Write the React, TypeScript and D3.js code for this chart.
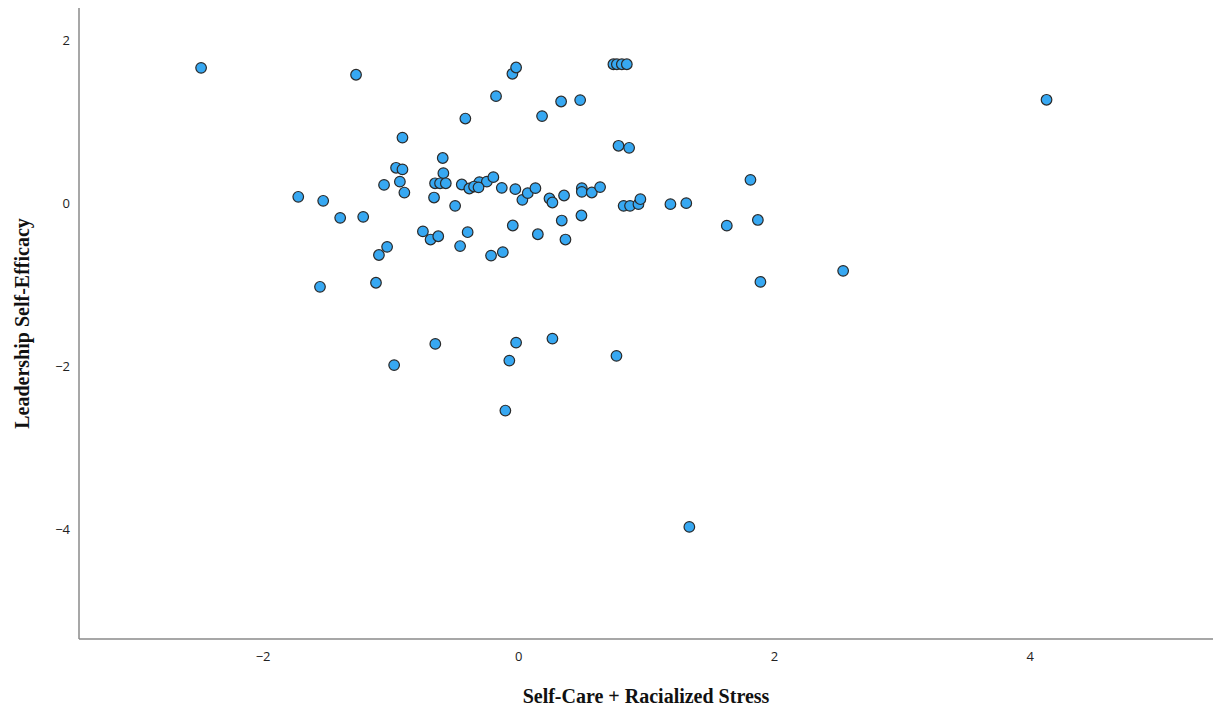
import React from 'react';
import * as d3 from 'd3';

// values
const selfCareStress = [
  -2.485, -1.725, -1.53, -1.397, -1.217, -1.273, -1.555, -1.117, -1.094, -1.03,
  -1.054, -0.975, -0.91, -0.96, -0.91, -0.93, -0.895, -0.75, -0.69, -0.63,
  -0.663, -0.595, -0.59, -0.655, -0.616, -0.571, -0.498, -0.446, -0.387, -0.329,
  -0.308, -0.25, -0.199, -0.459, -0.4, -0.217, -0.125, -0.133, -0.047, -0.027,
  0.028, 0.07, 0.13, 0.149, 0.24, 0.263, 0.354, 0.336, 0.365, 0.49,
  0.493, 0.493, 0.571, 0.636, 0.82, 0.87, 0.936, 0.951, 1.186, 1.31,
  -0.05, -0.021, -0.178, -0.418, 0.182, 0.331, 0.48, 0.74, 0.767, 0.806,
  0.845, 0.78, 0.863, 1.812, 1.87, 1.627, 2.537, 1.89, 4.128, 1.334,
  -0.653, -0.021, -0.074, 0.263, 0.764, -0.105, -0.35, -0.315,
];
const leadershipEfficacy = [
  1.656, 0.074, 0.025, -0.184, -0.172, 1.571, -1.03, -0.98, -0.64, -0.54,
  0.22, -1.99, 0.8, 0.43, 0.41, 0.26, 0.126, -0.35, -0.45, -0.41,
  0.065, 0.55, 0.364, 0.24, 0.24, 0.24, -0.037, 0.225, 0.176, 0.212,
  0.254, 0.26, 0.315, -0.53, -0.36, -0.647, -0.605, 0.184, -0.278, 0.168,
  0.037, 0.119, 0.18, -0.385, 0.053, 0.004, 0.09, -0.217, -0.45, -0.155,
  0.18, 0.135, 0.127, 0.193, -0.037, -0.037, -0.016, 0.045, -0.016, -0.004,
  1.583, 1.66, 1.309, 1.034, 1.064, 1.243, 1.26, 1.7, 1.7, 1.7,
  1.7, 0.7, 0.675, 0.282, -0.21, -0.28, -0.834, -0.97, 1.264, -3.975,
  -1.73, -1.714, -1.935, -1.665, -1.877, -2.548, 0.2, 0.19,
];
const xTicks = [-2, 0, 2, 4];
const yTicks = [2, 0, -2, -4];

const W = 1221;
const H = 713;
const left = 79;
const right = 1213;
const top = 8;
const bottom = 639;

export default function App() {
  const x = d3.scaleLinear().domain([-3.44, 5.43]).range([left, right]);
  const y = d3.scaleLinear().domain([-5.35, 2.39]).range([bottom, top]);
  const points = selfCareStress.map((v, i) => [v, leadershipEfficacy[i]]);
  const fmt = (t: number) => (t < 0 ? '\u2212' + Math.abs(t) : String(t));

  return (
    <svg width={W} height={H} style={{ position: 'absolute', left: 0, top: 0, background: '#fff' }}>
      {/* axes lines */}
      <line x1={left} x2={left} y1={top} y2={bottom} stroke="#8a8a8a" strokeWidth={1.5} />
      <line x1={left} x2={right} y1={bottom} y2={bottom} stroke="#8a8a8a" strokeWidth={1.5} />

      {xTicks.map((t) => (
        <text key={'x' + t} x={x(t)} y={661} textAnchor="middle" fontFamily="'Open Sans', sans-serif" fontSize={13} fill="#222">
          {fmt(t)}
        </text>
      ))}
      {yTicks.map((t) => (
        <text key={'y' + t} x={70} y={y(t) + 5} textAnchor="end" fontFamily="'Open Sans', sans-serif" fontSize={13} fill="#222">
          {fmt(t)}
        </text>
      ))}

      {points.map(([a, b], i) => (
        <circle key={i} cx={x(a)} cy={y(b)} r={5.3} fill="#37a8f2" stroke="#2a2a2a" strokeWidth={1.2} />
      ))}

      <text x={(left + right) / 2} y={703} textAnchor="middle" fontFamily="'Liberation Serif', serif" fontWeight="bold" fontSize={20} fill="#111">
        Self-Care + Racialized Stress
      </text>
      <text transform={`translate(29, ${(top + bottom) / 2}) rotate(-90)`} textAnchor="middle" fontFamily="'Liberation Serif', serif" fontWeight="bold" fontSize={20} fill="#111">
        Leadership Self-Efficacy
      </text>
    </svg>
  );
}
